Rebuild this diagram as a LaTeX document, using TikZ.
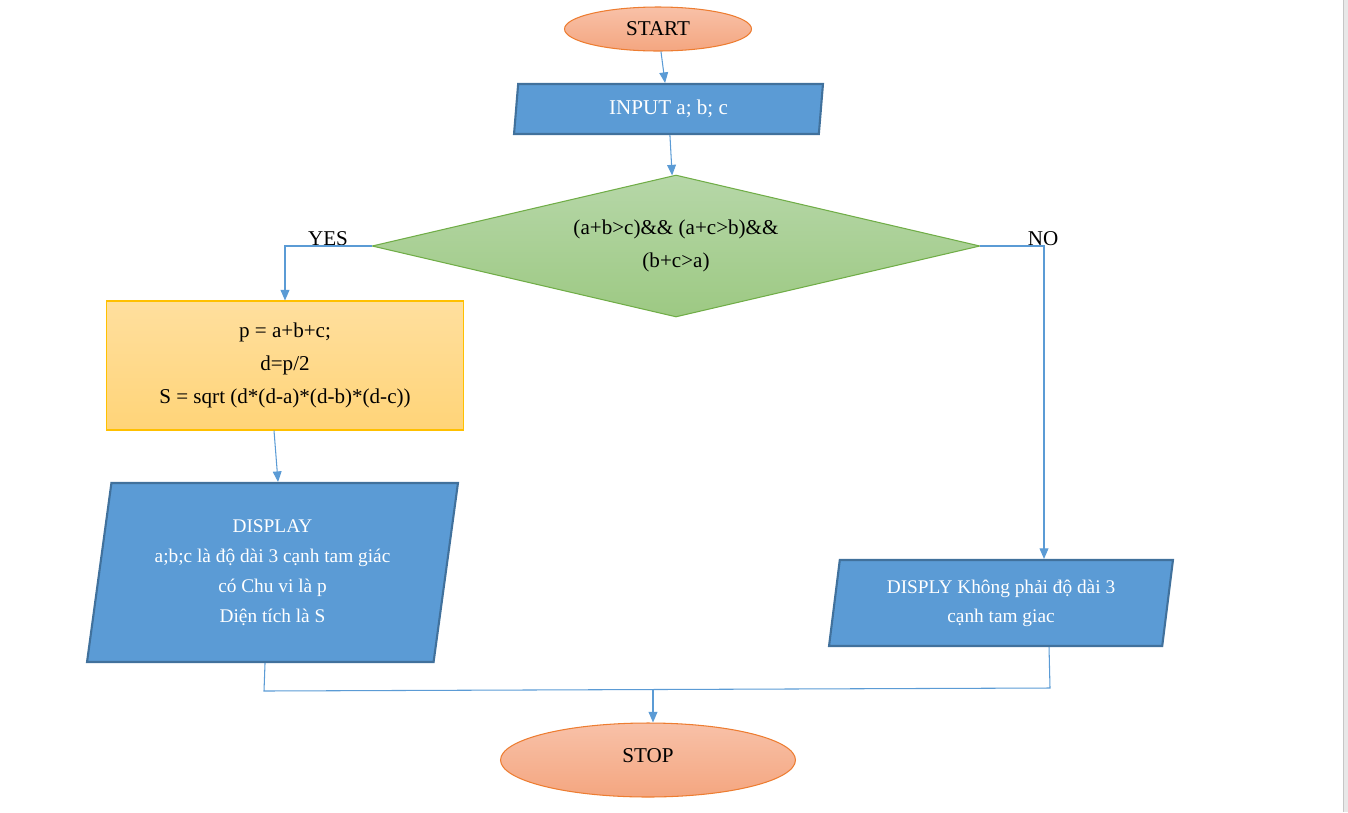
\documentclass[tikz,border=0pt]{standalone}
\usepackage{fontspec}
\setmainfont{Liberation Serif}
\usetikzlibrary{shapes.geometric}
\usetikzlibrary{arrows.meta}
\usetikzlibrary{calc}

\definecolor{edgeblue}{HTML}{5B9BD5}
\definecolor{iofill}{HTML}{5B9BD5}
\definecolor{iodark}{HTML}{41719C}
\definecolor{termtop}{HTML}{F8C1A8}
\definecolor{termbot}{HTML}{F4A680}
\definecolor{termline}{HTML}{ED7D31}
\definecolor{dectop}{HTML}{B6D7A8}
\definecolor{decbot}{HTML}{9DC983}
\definecolor{decline}{HTML}{70AD47}
\definecolor{proctop}{HTML}{FFDF9E}
\definecolor{procbot}{HTML}{FFD478}
\definecolor{procline}{HTML}{FFC000}

\begin{document}
\begin{tikzpicture}[x=0.02cm, y=-0.02cm,
    terminal/.style={ellipse, draw=termline, top color=termtop, bottom color=termbot,
      line width=0.6pt, inner sep=0pt, font=\fontsize{12}{14}\selectfont},
    iobox/.style={trapezium, trapezium left angle=77, trapezium right angle=103,
      trapezium stretches body, draw=iodark, fill=iofill, line width=1.2pt,
      inner sep=0pt, text=white, align=center},
    decision/.style={diamond, shape aspect=4.28, draw=decline, top color=dectop,
      bottom color=decbot, line width=0.6pt, inner sep=0pt, align=center,
      font=\fontsize{12}{19}\selectfont},
    process/.style={rectangle, draw=procline, top color=proctop, bottom color=procbot,
      line width=0.6pt, inner sep=0pt, align=center, font=\fontsize{12}{19}\selectfont},
    branchlabel/.style={inner sep=0pt, font=\fontsize{12}{14}\selectfont},
    flowline/.style={draw=edgeblue, line width=0.6pt},
    flowarrow/.style={flowline, -{Triangle[width=5pt,length=6pt]}}]
  \useasboundingbox (0,0) rectangle (1348,812);

  % page edge
  \fill[gray!18] (1343,0) rectangle (1348,812);
  \draw[gray!45] (1343,0) -- (1343,812);

  % start and input
  \node[terminal, minimum width=3.74cm, minimum height=0.88cm] (start) at (658,29) {START};
  \node[iobox, minimum width=6.18cm, minimum height=1cm,
    font=\fontsize{12}{14}\selectfont] (input) at (668.5,109) {INPUT a; b; c};

  % test
  \node[decision, minimum width=12.16cm, minimum height=2.84cm] (check) at (676,246)
    {(a+b>c)\&\& (a+c>b)\&\&\\(b+c>a)};
  \node[branchlabel] (yeslabel) at (328,239) {YES};
  \node[branchlabel] (nolabel) at (1043,239) {NO};

  % yes branch
  \node[process, minimum width=7.16cm, minimum height=2.58cm] (calc) at (285,365.5)
    {p = a+b+c;\\d=p/2\\S = sqrt (d*(d-a)*(d-b)*(d-c))};
  \node[iobox, minimum width=7.42cm, minimum height=3.58cm,
    font=\fontsize{11}{17}\selectfont] (yesout) at (272.5,572.5)
    {DISPLAY\\a;b;c là độ dài 3 cạnh tam giác\\có Chu vi là p\\Diện tích là S};

  % no branch
  \node[iobox, minimum width=6.88cm, minimum height=1.72cm,
    font=\fontsize{11}{16.5}\selectfont] (noout) at (1001,603)
    {DISPLY Không phải độ dài 3\\cạnh tam giac};

  % stop
  \node[terminal, minimum width=5.9cm, minimum height=1.48cm] (stop) at (648,760)
    {\raisebox{0.16cm}{STOP}};

  % connectors
  \draw[flowarrow] (start) -- (input);
  \draw[flowarrow] (input) -- (check);
  \draw[flowarrow] (check.west) -| (calc.north);
  \draw[flowarrow] (check.east) -| ([xshift=0.86cm]noout.north);
  \draw[flowarrow] ([xshift=-0.22cm]calc.south) -- ([xshift=0.11cm]yesout.north);

  \coordinate (joinleft) at (264,691);
  \coordinate (joinright) at (1050,688);
  \coordinate (joinmid) at (653,690);
  \draw[flowline] ([xshift=-0.15cm]yesout.south) -- (joinleft) -- (joinright)
    -- ([xshift=0.96cm]noout.south);
  \draw[flowarrow] (joinmid) -- (joinmid |- stop.north);
\end{tikzpicture}
\end{document}
